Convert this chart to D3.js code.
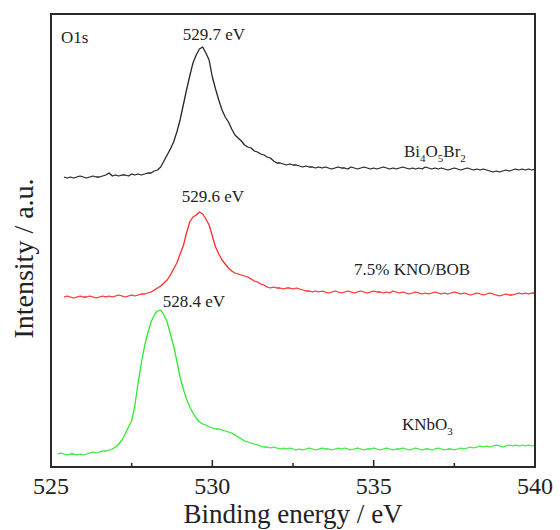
<!DOCTYPE html>
<html>
<head>
<meta charset="utf-8">
<script src="https://cdn.jsdelivr.net/npm/d3@7"></script>
</head>
<body style="margin:0">
<svg id="chart" width="560" height="530"></svg>
<script>
// ---- Data (O1s XPS spectra, stacked with offsets, arbitrary units) ----
const xTicksMajor = [525, 530, 535, 540];
const xTicksMinor = [527.5, 532.5, 537.5];
const energyStep = 0.1;

const bobStart = 525.4;
const bobValues = [
  290,289,290,289,290,291,290,289,290,291,290,290,291,292,294,291,292,291,292,292,
  291,293,292,293,292,293,294,294,296,297,300,306,312,318,325,335,347,362,377,391,
  404,412,418,420,414,407,390,378,367,357,350,345,338,332,329,326,322,320,319,316,
  315,313,312,310,309,306,304,304,303,302,303,302,302,301,300,301,300,300,299,300,
  299,300,299,298,299,300,299,299,298,300,299,298,299,300,299,298,299,298,299,300,
  299,298,299,298,299,300,299,298,299,298,299,298,300,299,298,299,298,299,298,297,
  298,299,298,297,298,299,298,297,298,297,298,297,296,295,296,295,296,297,296,297,
  298,297,298,297,298,297,298
];

const kbStart = 525.4;
const kbValues = [
  170,171,170,169,170,171,170,170,171,170,169,170,171,170,171,170,171,172,171,170,
  171,172,171,172,173,173,174,175,177,179,181,184,187,192,198,204,213,221,234,245,
  250,252,255,253,248,242,231,220,213,207,203,199,196,194,193,192,191,190,188,186,
  185,183,182,180,179,180,179,179,178,179,179,178,179,178,177,176,176,175,176,175,
  176,175,174,175,176,175,174,175,176,175,174,175,176,175,174,175,176,175,175,174,
  175,174,176,175,174,175,174,173,174,175,174,173,174,173,174,175,174,173,174,173,
  174,175,174,173,174,173,172,173,174,173,172,173,174,173,172,171,172,173,172,172,
  173,174,173,174,173,174,174
];

const knoStart = 525.2;
const knoValues = [
  13,14,13,12,13,13,12,13,12,13,14,15,14,15,16,16,17,18,20,23,
  27,33,40,46,62,84,104,121,134,145,152,156,157,152,145,133,121,106,90,78,
  68,60,54,49,45,43,42,40,39,38,38,37,36,35,34,32,30,28,26,25,
  24,23,22,21,20,20,19,20,19,18,19,18,19,18,17,18,17,18,19,18,
  17,18,19,18,18,17,18,19,18,19,18,17,18,19,18,17,18,18,19,18,
  17,18,19,18,17,18,18,19,18,17,18,19,18,17,18,18,17,18,19,18,
  17,18,18,17,18,19,18,19,20,19,20,21,20,21,20,21,22,21,20,21,
  22,21,22,21,22,21,22,21,22
];

const seriesNames = ["Bi4O5Br2", "7.5% KNO/BOB", "KNbO3"];
const seriesColors = ["#262626", "#ff2a2a", "#2eea2e"];
const peakLabels = ["529.7 eV", "529.6 eV", "528.4 eV"];

function toPoints(start, vals) {
  return vals.map((v, i) => ({ e: start + i * energyStep, v }));
}
const series = [
  { name: seriesNames[0], color: seriesColors[0], pts: toPoints(bobStart, bobValues) },
  { name: seriesNames[1], color: seriesColors[1], pts: toPoints(kbStart, kbValues) },
  { name: seriesNames[2], color: seriesColors[2], pts: toPoints(knoStart, knoValues) }
];

const FONT = "Liberation Serif";
const INK = "#222222";

const svg = d3.select("#chart");
const L = 51, R = 535, T = 14, B = 467;
const x = d3.scaleLinear().domain([525, 540]).range([L, R]);
const y = d3.scaleLinear().domain([0, 453]).range([B, T]);

const line = d3.line().x(d => x(d.e)).y(d => y(d.v));

svg.append("g").selectAll("path").data(series).join("path")
  .attr("d", d => line(d.pts))
  .attr("fill", "none")
  .attr("stroke", d => d.color)
  .attr("stroke-width", 1.3)
  .attr("stroke-linejoin", "round");

// ---- Ticks (drawn through the scale) ----
const tickG = svg.append("g");
tickG.selectAll("line.major").data(xTicksMajor).join("line").attr("class", "major")
  .attr("x1", d => x(d)).attr("x2", d => x(d)).attr("y1", B).attr("y2", B - 7)
  .attr("stroke", INK).attr("stroke-width", 1.5);
tickG.selectAll("line.minor").data(xTicksMinor).join("line").attr("class", "minor")
  .attr("x1", d => x(d)).attr("x2", d => x(d)).attr("y1", B).attr("y2", B - 4)
  .attr("stroke", INK).attr("stroke-width", 1.5);

// frame
svg.append("rect").attr("x", L).attr("y", T).attr("width", R - L).attr("height", B - T)
  .attr("fill", "none").attr("stroke", "#2a2a2a").attr("stroke-width", 2);

function txt(xp, yp, size, s, anchor) {
  return svg.append("text").attr("x", xp).attr("y", yp)
    .attr("font-family", FONT)
    .attr("font-size", size).attr("fill", INK)
    .attr("text-anchor", anchor || "start").text(s);
}

xTicksMajor.forEach(t => txt(x(t), B + 27, 24, String(t), "middle"));

txt((L + R) / 2, 523, 27, "Binding energy / eV", "middle");
svg.append("text").attr("transform", `translate(33,${(T + B) / 2 + 18}) rotate(-90)`)
  .attr("font-family", FONT).attr("fill", INK)
  .attr("text-anchor", "middle").attr("font-size", 28).text("Intensity / a.u.");

txt(61, 43, 17, "O1s");
const peakPos = [[214, 40], [213, 202], [194, 307]];
peakLabels.forEach((t, i) => txt(peakPos[i][0], peakPos[i][1], 17, t, "middle"));

function chem(xp, yp, parts) {
  const t = txt(xp, yp, 17, "");
  let sub = false;
  parts.forEach(p => {
    const isSub = /^\d+$/.test(p);
    const ts = t.append("tspan").attr("font-family", FONT).text(p);
    if (isSub) { ts.attr("font-size", 11).attr("dy", sub ? 0 : 5); sub = true; }
    else { ts.attr("dy", sub ? -5 : 0); sub = false; }
  });
}
chem(404, 157, ["Bi", "4", "O", "5", "Br", "2"]);
txt(354, 275, 17, "7.5% KNO/BOB");
chem(402, 430, ["KNbO", "3"]);
</script>
</body>
</html>
